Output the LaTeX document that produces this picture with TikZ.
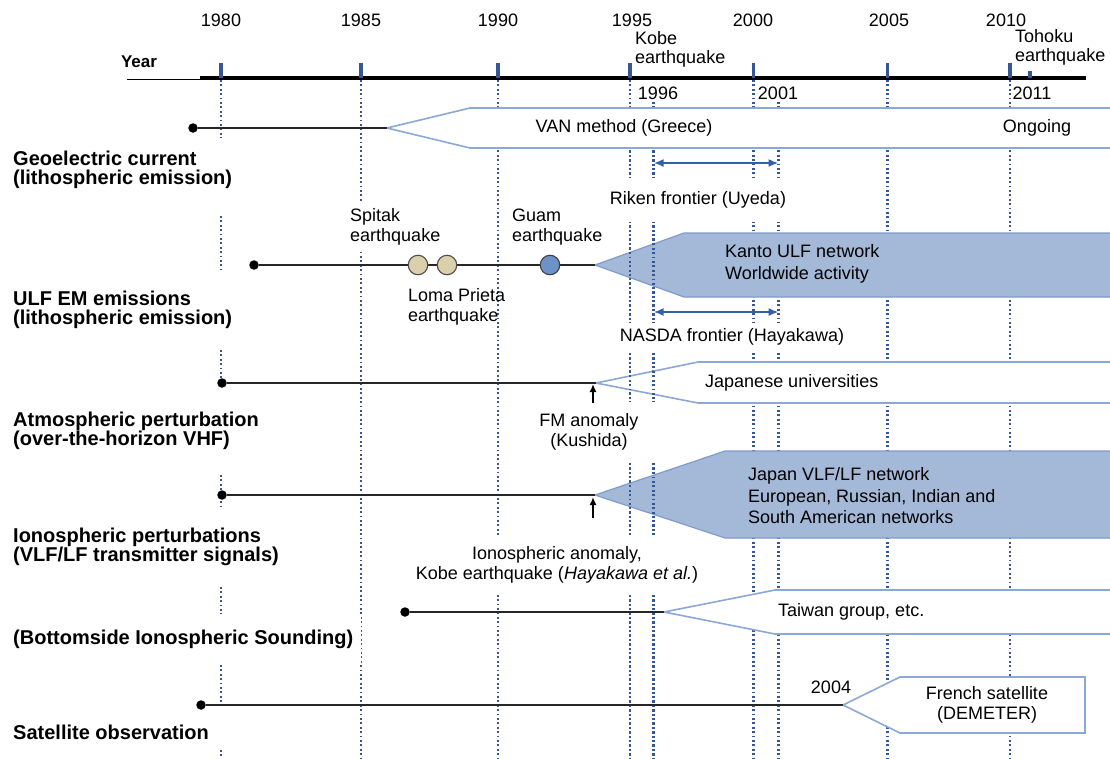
\documentclass[tikz,border=0pt]{standalone}
\usepackage{fontspec}
\setmainfont{Liberation Sans}
\usetikzlibrary{positioning, arrows.meta, calc}
\definecolor{boxblue}{RGB}{164,184,216}
\definecolor{boxedge}{RGB}{126,156,204}
\definecolor{openedge}{RGB}{140,168,214}
\definecolor{guideblue}{RGB}{56,86,148}
\definecolor{arrowblue}{RGB}{52,96,168}
\definecolor{quaketan}{RGB}{218,208,172}
\definecolor{quakeblue}{RGB}{108,146,200}

\begin{document}
\begin{tikzpicture}[x=1pt, y=-1pt,
    rowtitle/.style={font=\fontsize{20}{19.5}\selectfont\bfseries, align=left, anchor=west, fill=white, inner xsep=8pt, inner ysep=6pt},
    note/.style={font=\fontsize{18}{20}\selectfont, align=center, inner sep=2pt},
    boxtext/.style={font=\fontsize{18}{21.5}\selectfont, align=left, anchor=west, inner sep=1pt},
    yearlabel/.style={font=\fontsize{18}{19}\selectfont, inner sep=1pt},
    guide/.style={draw=guideblue, line width=2.4pt, dash pattern=on 1.8pt off 2.6pt},
    tickmark/.style={draw=guideblue, line width=3.4pt},
    startdot/.style={circle, fill=black, inner sep=0pt, minimum size=9.5pt},
    track/.style={line width=2pt, black!85},
    openbox/.style={draw=openedge, line width=1.6pt, fill=white},
    fullbox/.style={draw=boxedge, line width=1.2pt, fill=boxblue},
    period/.style={{Latex[length=10pt,width=8pt]}-{Latex[length=10pt,width=8pt]}, line width=2.8pt, draw=arrowblue},
    onset/.style={-{Latex[length=8pt,width=7pt]}, line width=2pt},
    quake/.style={circle, draw=black!70, line width=1.1pt, minimum size=19.5pt, inner sep=0pt}
]
\useasboundingbox[fill=white] (0,0) rectangle (1110,758);

\foreach \x/\top in {361/80, 498/80, 630/80, 653.6/102, 753.6/80, 778.6/102, 887.5/80, 1010/80}
    \draw[guide] (\x,\top) -- (\x,758);
\foreach \from/\to in {80/138, 216/270, 350/387, 475/506, 587/618, 665/706, 750/758}
    \draw[guide] (221,\from) -- (221,\to);

\draw[line width=1pt] (127,79.5) -- (200,79.5);
\draw[line width=4pt] (200,78) -- (1086,78);
\foreach \x in {221, 361, 498, 630, 753.6, 887.5, 1010}
    \draw[tickmark] (\x,63) -- (\x,78);
\draw[tickmark] (1030,71) -- (1030,78);

\node[font=\fontsize{17}{19}\selectfont\bfseries] (yearhead) at (139,62) {Year};
\foreach \x/\yr in {221/1980, 361/1985, 498/1990, 632/1995, 753/2000, 889/2005, 1006/2010}
    \node[yearlabel] (y\yr) at (\x,20) {\yr};
\node[yearlabel, align=left, anchor=west] (kobe) at (634,49) {Kobe\\earthquake};
\node[yearlabel, align=left, anchor=west] (tohoku) at (1014,47) {Tohoku\\earthquake};
\node[yearlabel] (y1996) at (658,93) {1996};
\node[yearlabel] (y2001) at (778,93) {2001};
\node[yearlabel] (y2011) at (1032,93) {2011};

\coordinate (vantip) at (387,128);
\coordinate (ulftip) at (595,265);
\coordinate (atmtip) at (596,383);
\coordinate (vlftip) at (595,495);
\coordinate (bottip) at (664,612);
\coordinate (sattip) at (843,705);

\draw[openbox] (vantip) -- (470,108) -- (1116,108) -- (1116,148) -- (470,148) -- cycle;
\draw[fullbox] (ulftip) -- (684,233) -- (1116,233) -- (1116,297) -- (684,297) -- cycle;
\draw[openbox] (atmtip) -- (698,362) -- (1116,362) -- (1116,403) -- (698,403) -- cycle;
\draw[fullbox] (vlftip) -- (725,451) -- (1116,451) -- (1116,538) -- (725,538) -- cycle;
\draw[openbox] (bottip) -- (775,590) -- (1116,590) -- (1116,634) -- (775,634) -- cycle;
\draw[openbox] (sattip) -- (900,677) -- (1085,677) -- (1085,733) -- (900,733) -- cycle;

\foreach \x in {630, 653.6}
    \draw[guide] (\x,151) -- (\x,758);

\node[rowtitle] (geo) at (5,170) {Geoelectric current\\(lithospheric emission)};
\node[rowtitle] (ulf) at (5,310) {ULF EM emissions\\(lithospheric emission)};
\node[rowtitle] (atm) at (5,431) {Atmospheric perturbation\\(over-the-horizon VHF)};
\node[rowtitle] (iono) at (5,547) {Ionospheric perturbations\\(VLF/LF transmitter signals)};
\node[rowtitle, inner ysep=16pt] (bottom) at (5,639) {(Bottomside Ionospheric Sounding)};
\node[rowtitle, inner ysep=12pt] (sat) at (5,732) {Satellite observation};

\node[note] (van) at (624,128) {VAN method (Greece)};
\node[note] (ongoing) at (1037,128) {Ongoing};
\node[note, fill=white, inner ysep=14pt] (riken) at (698,200) {Riken frontier (Uyeda)};
\node[note, fill=white, align=left, anchor=west, inner sep=6pt] (spitak) at (344,227) {Spitak\\earthquake};
\node[note, align=left, anchor=west] (guam) at (510,227) {Guam\\earthquake};
\node[note, align=left, anchor=west] (loma) at (406,307) {Loma Prieta\\earthquake};
\node[boxtext] (kanto) at (724,264) {Kanto ULF network\\Worldwide activity};
\node[note, fill=white, inner ysep=6pt] (nasda) at (732,337) {NASDA frontier (Hayakawa)};
\node[boxtext] (japuni) at (704,383) {Japanese universities};
\node[note, fill=white, inner xsep=17pt, inner ysep=12pt] (fm) at (589,432) {FM anomaly\\(Kushida)};
\node[boxtext] (vlfnet) at (747,496) {Japan VLF/LF network\\European, Russian, Indian and\\South American networks};
\node[note, fill=white, inner xsep=3pt, inner ysep=12pt] (ionoano) at (557,565) {Ionospheric anomaly,\\Kobe earthquake (\textit{Hayakawa et al.})};
\node[boxtext] (taiwan) at (777,612) {Taiwan group, etc.};
\node[note] (y2004) at (831,687) {2004};
\node[note] (demeter) at (987,705) {French satellite\\(DEMETER)};

\node[startdot] (vanstart) at (193,128) {};
\node[startdot] (ulfstart) at (254,265) {};
\node[startdot] (atmstart) at (222,383) {};
\node[startdot] (vlfstart) at (222,495) {};
\node[startdot] (botstart) at (405,612) {};
\node[startdot] (satstart) at (201,705) {};

\draw[track] (vanstart) -- (vantip);
\draw[track] (ulfstart) -- (ulftip);
\draw[track] (atmstart) -- (atmtip);
\draw[track] (vlfstart) -- (vlftip);
\draw[track] (botstart) -- (bottip);
\draw[track] (satstart) -- (sattip);

\node[quake, fill=quaketan] (spitakq) at (418,265) {};
\node[quake, fill=quaketan] (lomaq) at (447,265) {};
\node[quake, fill=quakeblue, draw=black!75] (guamq) at (550,265) {};

\coordinate (riken96) at (653.6,163);
\coordinate (riken01) at (778.6,163);
\coordinate (nasda96) at (653.6,312);
\coordinate (nasda01) at (778.6,312);
\draw[period] (riken96) -- (riken01);
\draw[period] (nasda96) -- (nasda01);

\coordinate (fmfoot) at (593,403);
\coordinate (ionofoot) at (593,518);
\draw[onset] (fmfoot) -- (593,384);
\draw[onset] (ionofoot) -- (593,497);

\end{tikzpicture}
\end{document}
